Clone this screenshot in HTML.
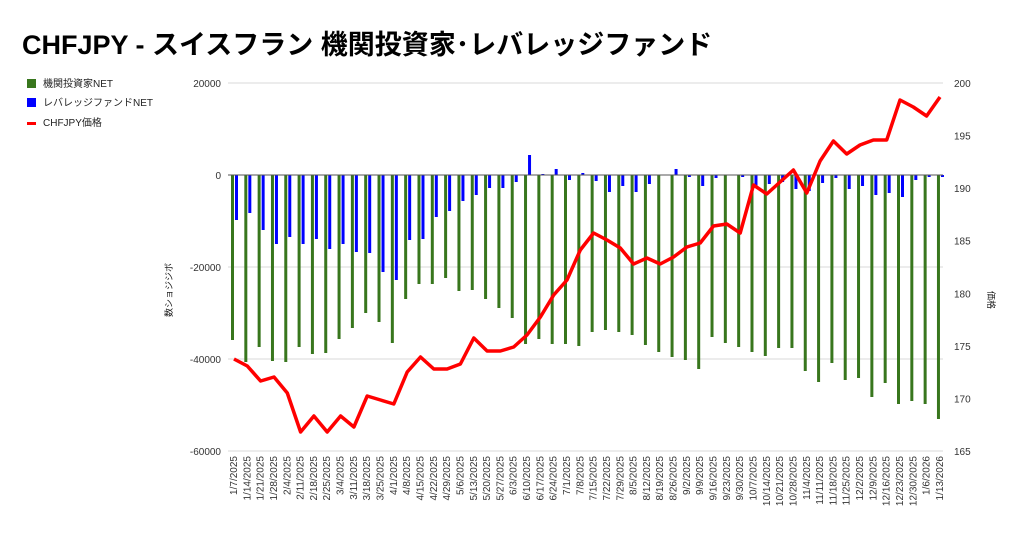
<!DOCTYPE html>
<html><head><meta charset="utf-8"><style>
html,body{margin:0;padding:0;background:#fff;}
svg{display:block;font-family:"Liberation Sans","Noto Sans CJK JP",sans-serif;}
</style></head><body>
<svg id="c" width="1024" height="533" xmlns="http://www.w3.org/2000/svg">
<rect width="1024" height="533" fill="#fff"/>
<text x="22" y="54" font-size="27" font-weight="bold" fill="#000">CHFJPY - スイスフラン 機関投資家･レバレッジファンド</text>
<rect x="27" y="79" width="9" height="9" fill="#38761d"/>
<text x="43" y="87" font-size="10" fill="#222">機関投資家NET</text>
<rect x="27" y="98" width="9" height="9" fill="#0000ff"/>
<text x="43" y="106" font-size="10" fill="#222">レバレッジファンドNET</text>
<rect x="27" y="122" width="9" height="3" fill="#ff0000"/>
<text x="43" y="126" font-size="10" fill="#222">CHFJPY価格</text>
<text transform="translate(172,290) rotate(-90)" font-size="9" fill="#222" text-anchor="middle">数ショジジボ</text>
<text transform="translate(988,300) rotate(90)" font-size="9" fill="#222" text-anchor="middle">価格</text>
</svg>
<script>
var s=document.getElementById('c'),NS='http://www.w3.org/2000/svg';
function el(t,a,txt){var e=document.createElementNS(NS,t);for(var k in a)e.setAttribute(k,a[k]);if(txt!==undefined)e.textContent=txt;s.appendChild(e);return e;}
[83,267,359,451].forEach(function(y){el('line',{x1:228,x2:943,y1:y,y2:y,stroke:'#d9d9d9','stroke-width':1});});
[[83,'20000'],[175,'0'],[267,'-20000'],[359,'-40000'],[451,'-60000']].forEach(function(g){el('text',{x:221,y:g[0]+4,'font-size':10,'text-anchor':'end',fill:'#333'},g[1]);});
[200,195,190,185,180,175,170,165].forEach(function(v){var y=83+(200-v)*368/35;el('text',{x:954,y:y+4,'font-size':10,fill:'#333'},String(v));});
var G=[340,362,347,361,362,347,354,353,339,328,313,322,343,299,284,284,278,291,290,299,308,318,344,339,344,344,346,332,330,332,335,345,352,357,360,369,337,343,347,352,356,348,348,371,382,363,380,378,397,383,404,401,404,419];
var B=[220,213,230,244,237,244,239,249,244,252,253,272,280,240,239,217,211,201,195,188,188,182,155,174,169,180,173,181,192,186,192,184,175,169,177,186,178,175,177,186,184,182,189,191,183,178,189,186,195,193,197,180,177,177];
var R=[359,366,381,377,393,432,416,432,416,427,396,400,404,372,357,369,369,364,338,351,351,347,335,317,295,280,250,233,240,248,264,258,264,257,247,243,226,224,233,185,194,182,170,193,161,141,154,145,140,140,100,107,116,97];
var d=new Date(2025,0,7),pts=[];
for(var i=0;i<54;i++){
 var x=234+i*13.32;
 var g=G[i];el('rect',{x:x-3,y:175,width:3,height:Math.max(0,g-175),fill:'#38761d'});
 var b=B[i];el('rect',{x:x+1,y:Math.min(b,175),width:3,height:Math.abs(b-175),fill:'#0000ff'});
 pts.push(x.toFixed(1)+','+R[i]);
 var lab=(d.getMonth()+1)+'/'+d.getDate()+'/'+d.getFullYear();
 el('text',{transform:'translate('+(x+3)+',456) rotate(-90)','font-size':10,'text-anchor':'end',fill:'#333'},lab);
 d.setDate(d.getDate()+7);
}
el('line',{x1:228,x2:943,y1:175,y2:175,stroke:'#555','stroke-width':1});
el('polyline',{points:pts.join(' '),fill:'none',stroke:'#ff0000','stroke-width':3.5,'stroke-linejoin':'round'});
</script>
</body></html>
